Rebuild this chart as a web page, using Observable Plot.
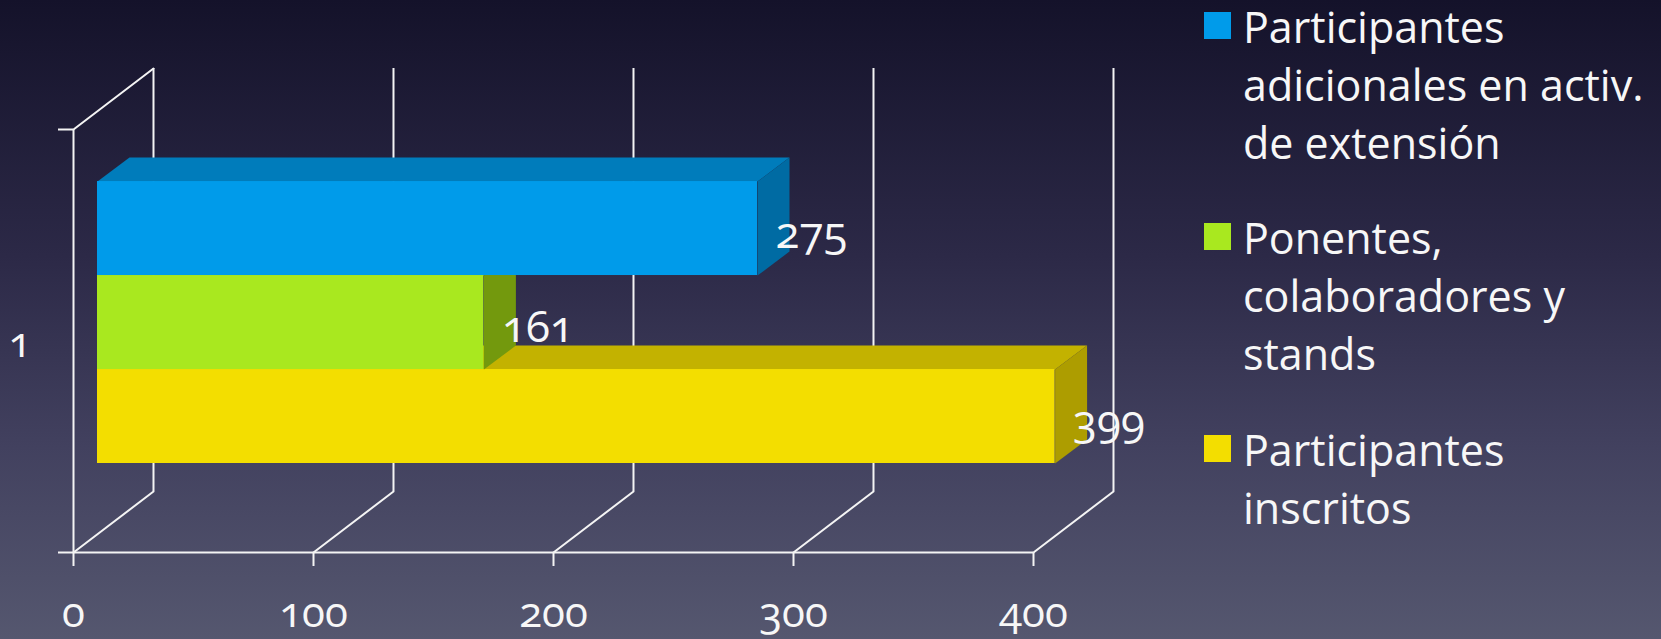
<!DOCTYPE html>
<html>
<head>
<meta charset="utf-8">
<script src="https://cdn.jsdelivr.net/npm/d3@7"></script>
<script src="https://cdn.jsdelivr.net/npm/@observablehq/plot@0.6"></script>
<style>
html,body{margin:0;padding:0;width:1661px;height:639px;overflow:hidden;
background:linear-gradient(180deg,#14122a 0%,#2c2947 40%,#42415f 70%,#55576f 100%);}
#chart{position:absolute;left:0;top:0}
#chart svg{background:transparent!important;font-variant-numeric:oldstyle-nums}
#chart svg text{font-variant-numeric:oldstyle-nums!important;font-feature-settings:"onum"}
.lg{position:absolute;left:1204px;color:#f7f7f7;font:43px/58px "Open Sans",sans-serif;white-space:pre}
.lg i{position:absolute;left:0;width:27px;height:27px}
.lg span{position:absolute;left:39px;top:0}
</style>
</head>
<body>
<div id="chart"></div>
<script>
const categories = ["1"];
const seriesNames = [
  "Participantes inscritos",
  "Ponentes, colaboradores y stands",
  "Participantes adicionales en activ. de extensión"
];
const seriesValues = [399, 161, 275];
const frontColors = ["#f3de00", "#a9e81f", "#009bea"];
const topColors   = ["#c3b200", "#87b918", "#007cbb"];
const sideColors  = ["#ad9d00", "#73990d", "#006ba3"];
const xTicks = [0, 100, 200, 300, 400];
const legendLines = [
  ["Participantes", "adicionales en activ.", "de extensión"],
  ["Ponentes,", "colaboradores y", "stands"],
  ["Participantes", "inscritos"]
];
const legendColors = ["#009bea", "#a9e81f", "#f3de00"];

// projection of the oblique "3D" view, in data units
const wallDX = 33.33, wallDY = 0.1442;
const barInset = 10, barBase = 0.2104, barH = 0.2222;
const depthDX = 13.33, depthDY = 0.0567;
const lineColor = "#f4f4f4", lw = 2;

const poly = (pts, fill) => Plot.line(pts, {x: "x", y: "y", fill, stroke: null, curve: "linear"});
const faces = [];
seriesValues.forEach((v, i) => {
  const x0 = barInset, x1 = barInset + v;
  const y0 = barBase + i * barH, y1 = y0 + barH;
  faces.push(poly([{x:x0,y:y1},{x:x1,y:y1},{x:x1+depthDX,y:y1+depthDY},{x:x0+depthDX,y:y1+depthDY}], topColors[i]));
  faces.push(poly([{x:x1,y:y0},{x:x1+depthDX,y:y0+depthDY},{x:x1+depthDX,y:y1+depthDY},{x:x1,y:y1}], sideColors[i]));
  faces.push(Plot.rect([{v}], {x1: x0, x2: x1, y1: y0, y2: y1, fill: frontColors[i]}));
});

const oblique = xTicks.map(t => Plot.line([{x:t,y:0},{x:t+wallDX,y:wallDY}], {x:"x",y:"y",stroke:lineColor,strokeWidth:lw}));

const chart = Plot.plot({
  width: 1661, height: 639,
  marginLeft: 73, marginRight: 628, marginTop: 129, marginBottom: 87,
  x: {domain: [0, 400]},
  y: {domain: [0, 1]},
  style: {background: "transparent", color: "#f7f7f7", fontFamily: "'Open Sans',sans-serif"},
  marks: [
    ...oblique,
    Plot.ruleX(xTicks, {x: d => d + wallDX, y1: wallDY, y2: 1 + wallDY, stroke: lineColor, strokeWidth: lw}),
    Plot.line([{x:0,y:1},{x:wallDX,y:1+wallDY}], {x:"x",y:"y",stroke:lineColor,strokeWidth:lw}),
    Plot.ruleY([0], {stroke: lineColor, strokeWidth: lw}),
    Plot.ruleX([0], {stroke: lineColor, strokeWidth: lw}),
    Plot.axisX({ticks: xTicks, tickSize: 14, tickPadding: 31, fontSize: 42, label: null, stroke: lineColor, strokeWidth: lw, strokeOpacity: 1}),
    Plot.axisY({ticks: [0, 1], tickSize: 15, tickFormat: () => "", label: null, stroke: lineColor, strokeWidth: lw, strokeOpacity: 1}),
    Plot.axisY({ticks: [0.5], tickSize: 0, tickPadding: 42, dy: 3, tickFormat: () => categories[0], fontSize: 42, label: null}),
    ...faces,
    Plot.text(seriesValues, {
      x: d => d, y: (d, i) => barBase + (i + 0.5) * barH,
      text: d => String(d), textAnchor: "start", dx: 42, dy: 5, fontSize: 44, fill: "#f7f7f7"
    })
  ]
});
document.getElementById("chart").append(chart);

const tops = [-2, 209, 421];
const swatchTops = [12, 223, 435];
legendLines.forEach((lines, i) => {
  const d = document.createElement("div");
  d.className = "lg";
  d.style.top = "0px";
  const sw = document.createElement("i");
  sw.style.top = swatchTops[i] + "px";
  sw.style.background = legendColors[i];
  d.append(sw);
  const s = document.createElement("span");
  s.style.top = tops[i] + "px";
  s.textContent = lines.join("\n");
  d.append(s);
  document.body.append(d);
});
</script>
</body>
</html>
